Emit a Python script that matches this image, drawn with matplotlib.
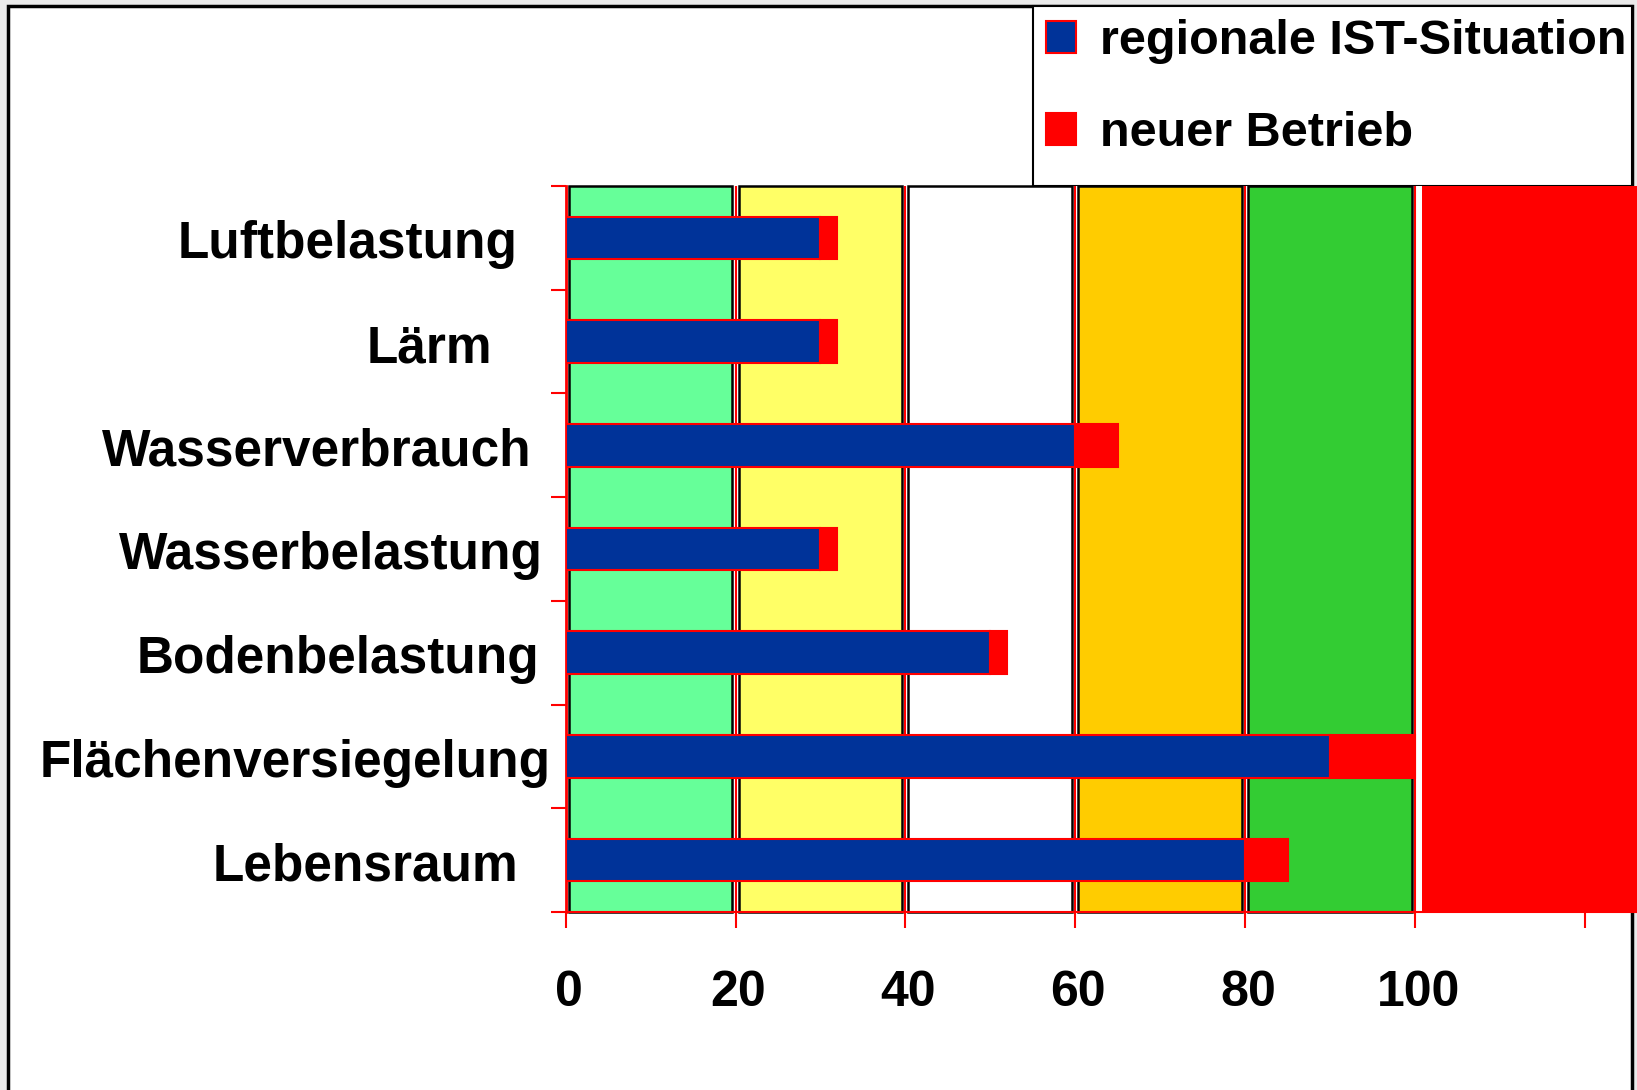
import numpy as np
import matplotlib
matplotlib.use("Agg")
import matplotlib.pyplot as plt
from matplotlib.patches import Rectangle
from matplotlib.transforms import ScaledTranslation

plt.rcParams['font.family'] = ['Liberation Sans', 'DejaVu Sans']
plt.rcParams['font.weight'] = 'bold'

# data
categories = ['Luftbelastung', 'Lärm', 'Wasserverbrauch', 'Wasserbelastung',
              'Bodenbelastung', 'Flächenversiegelung', 'Lebensraum']
ist = [30, 30, 60, 30, 50, 90, 80]
neu = [2, 2, 5, 2, 2, 10, 5]
series_names = ['regionale IST-Situation', 'neuer Betrieb']
xticks = [0, 20, 40, 60, 80, 100, 120]
xticklabels = ['0', '20', '40', '60', '80', '100', '']
band_edges = [0, 20, 40, 60, 80, 100, 140]
band_colors = ['#66FF99', '#FFFF66', '#FFFFFF', '#FFCC00', '#33CC33', '#FF0000']

# layout (label right ends, px left of the axis)
label_shift_px = [48, 74, 34, 23, 26, 15, 47]

W, H = 1637, 1090
px_per_unit = 8.493
fig = plt.figure(figsize=(W / 100, H / 100), dpi=100)
fig.patch.set_facecolor('#EAEAEA')

# white frame and legend box (behind the axes)
fig.patches.append(Rectangle((8 / W, -0.1), (1632 - 8) / W, 1.1 - 6 / H,
                             transform=fig.transFigure, facecolor='white',
                             edgecolor='black', lw=2.5, zorder=-2))
fig.patches.append(Rectangle((1033 / W, 1 - 186 / H), (1632 - 1033) / W, 180 / H,
                             transform=fig.transFigure, facecolor='white',
                             edgecolor='black', lw=1.5, zorder=-1))

ax = fig.add_axes([565.7 / W, 1 - 912 / H, 130 * px_per_unit / W, 726 / H])
ax.set_xlim(0, 130)
ax.set_ylim(6.5, -0.5)

# background bands
for x0, x1, c in zip(band_edges[:-1], band_edges[1:], band_colors):
    if c == '#FF0000':
        ax.axvspan(x0 + 0.85, x1, facecolor=c, edgecolor='none', zorder=0)
    else:
        ax.axvspan(x0 + 0.35, x1 - 0.4, facecolor=c, edgecolor='black', lw=1.8,
                   zorder=0, clip_on=False)

y = np.arange(len(categories))
b1 = ax.barh(y, ist, height=0.41, color='#003399', edgecolor='red', lw=1.5,
             zorder=3, label=series_names[0])
b2 = ax.barh(y, neu, left=ist, height=0.41, color='red', edgecolor='red', lw=1.5,
             zorder=3, label=series_names[1])

ax.set_axisbelow(True)
ax.xaxis.grid(True, color='red', lw=1.5)
ax.set_xticks(xticks)
ax.set_xticklabels(xticklabels, fontsize=36, fontweight='bold')
ax.tick_params(axis='x', color='red', width=1.5, length=11.5, pad=30.5)
shift = ScaledTranslation(3 / 100, 0, fig.dpi_scale_trans)
for lab in ax.get_xticklabels():
    lab.set_transform(lab.get_transform() + shift)
ax.set_yticks(np.arange(-0.5, 7, 1))
ax.set_yticklabels([])
ax.tick_params(axis='y', color='red', width=1.5, length=11)

for s in ['top', 'right']:
    ax.spines[s].set_visible(False)
ax.spines['left'].set_color('red')
ax.spines['left'].set_linewidth(2)
ax.spines['bottom'].set_color('red')
ax.spines['bottom'].set_linewidth(1.5)

for i, name in enumerate(categories):
    ax.annotate(name, xy=(0, i), xycoords=ax.get_yaxis_transform(),
                xytext=(-label_shift_px[i] * 0.72, -5), textcoords='offset points',
                ha='right', va='center', fontsize=37, fontweight='bold')

fig.legend(handles=[b1, b2], loc='upper left',
           bbox_to_anchor=(1046 / W, 1 - 19 / H), frameon=False,
           prop={'size': 35, 'weight': 'bold'}, handlelength=0.62,
           handleheight=0.62, handletextpad=0.5, labelspacing=0.97,
           borderpad=0, borderaxespad=0)

fig.savefig('out.png', dpi=100, facecolor=fig.get_facecolor())
